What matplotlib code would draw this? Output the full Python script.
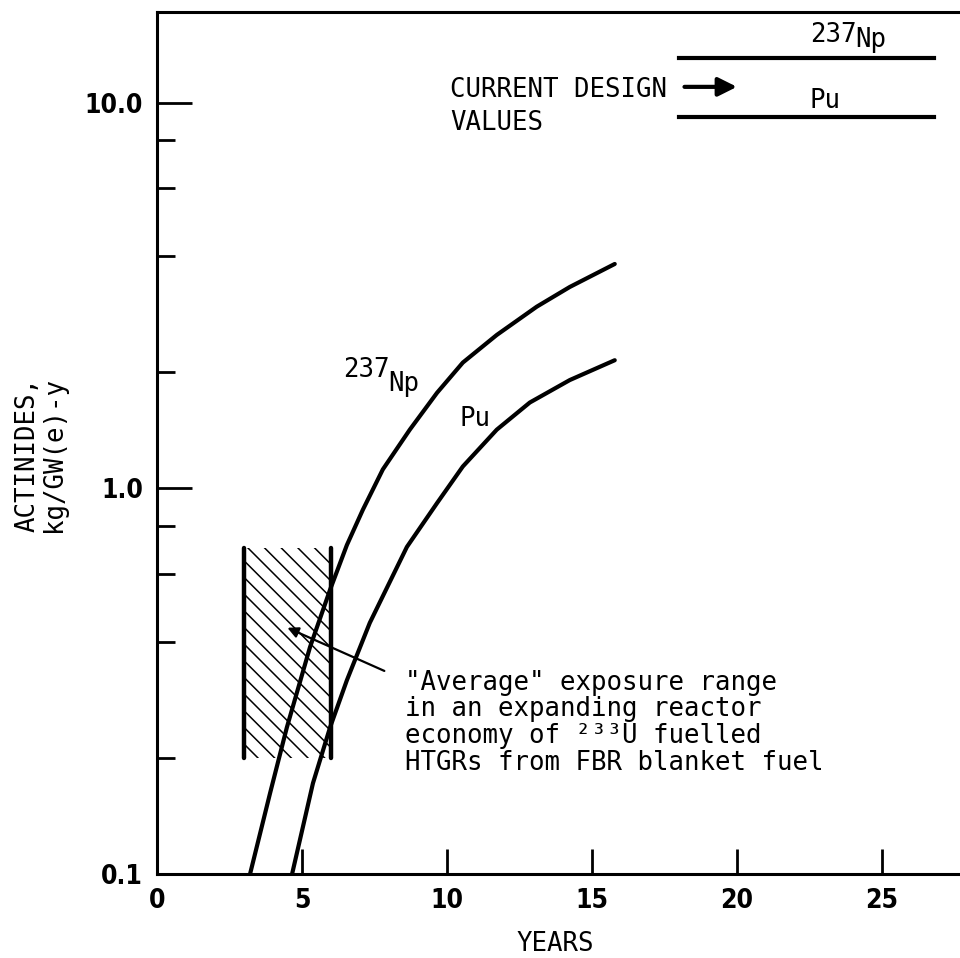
import matplotlib
matplotlib.use("Agg")
import matplotlib.pyplot as plt
from matplotlib import font_manager
from matplotlib.ticker import FixedLocator, NullFormatter, FixedFormatter

# ---- data ----
np_years = [3.21, 3.90, 4.48, 5.28, 5.97, 6.55, 7.10, 7.79, 8.72, 9.66, 10.55, 11.72, 13.10, 14.24, 15.79]
np_values = [0.100, 0.162, 0.240, 0.388, 0.546, 0.713, 0.88, 1.12, 1.42, 1.77, 2.12, 2.50, 2.96, 3.33, 3.82]

pu_years = [4.66, 5.38, 5.97, 6.55, 7.34, 8.62, 9.66, 10.55, 11.72, 12.86, 14.24, 15.79]
pu_values = [0.100, 0.172, 0.240, 0.318, 0.448, 0.705, 0.916, 1.14, 1.42, 1.67, 1.91, 2.15]

design_years = [18.0, 26.8]
design_np = 13.1
design_pu = 9.2

exposure_years = [3.0, 6.0]
exposure_range = [0.2, 0.7]

x_ticks = [0, 5, 10, 15, 20, 25]
x_tick_labels = ["0", "5", "10", "15", "20", "25"]
y_major = [0.1, 1.0, 10.0]
y_major_labels = ["0.1", "1.0", "10.0"]
y_minor = [0.2, 0.4, 0.6, 0.8, 2, 4, 6, 8]

# pick a condensed bold face for tick labels if one is installed
_cand = font_manager.findfont(font_manager.FontProperties(family="DejaVu Sans", weight="bold",
                                                          stretch="condensed"))
if "Condensed" in _cand:
    tick_family, tick_stretch, tick_size = ["DejaVu Sans"], "condensed", 19
else:
    tick_family, tick_stretch, tick_size = ["Liberation Sans", "DejaVu Sans"], "normal", 19

W, H = 960, 958
fig = plt.figure(figsize=(W / 100, H / 100), dpi=100)
ax = fig.add_axes([157 / W, 1 - 874 / H, (W - 157) / W, (874 - 12) / H])
ax.set_yscale("log")
ax.set_xlim(0, 27.7)
ax.set_ylim(0.1, 17.2)

for s in ["left", "bottom", "top"]:
    ax.spines[s].set_linewidth(2.2)
ax.spines["right"].set_visible(False)

mono = ["DejaVu Sans Mono"]

ax.xaxis.set_major_locator(FixedLocator(x_ticks))
ax.xaxis.set_major_formatter(FixedFormatter(x_tick_labels))
ax.xaxis.set_minor_locator(FixedLocator([]))
ax.yaxis.set_major_locator(FixedLocator(y_major))
ax.yaxis.set_major_formatter(FixedFormatter(y_major_labels))
ax.yaxis.set_minor_locator(FixedLocator(y_minor))
ax.yaxis.set_minor_formatter(NullFormatter())
ax.tick_params(axis="x", which="major", direction="in", length=18, width=2, pad=10)
ax.tick_params(axis="y", which="major", direction="in", length=25, width=2, pad=10)
ax.tick_params(axis="y", which="minor", direction="in", length=13, width=2)
for lbl in ax.get_xticklabels() + ax.get_yticklabels():
    lbl.set_fontfamily(tick_family)
    lbl.set_fontstretch(tick_stretch)
    lbl.set_fontweight("bold")
    lbl.set_fontsize(tick_size)

# curves
ax.plot(np_years, np_values, color="black", lw=3, solid_capstyle="round", solid_joinstyle="round")
ax.plot(pu_years, pu_values, color="black", lw=3, solid_capstyle="round", solid_joinstyle="round")

# hatched exposure range
plt.rcParams["hatch.linewidth"] = 1.1
ax.fill_between(exposure_years, exposure_range[0], exposure_range[1],
                facecolor="none", edgecolor="black", hatch="\\\\", linewidth=0)
for xv in exposure_years:
    ax.plot([xv, xv], exposure_range, color="black", lw=3.2, solid_capstyle="round")

# current design values
ax.plot(design_years, [design_np, design_np], color="black", lw=3)
ax.plot(design_years, [design_pu, design_pu], color="black", lw=3)
ax.annotate("", xy=(20.1, 11.0), xytext=(18.1, 11.0),
            arrowprops=dict(arrowstyle="-|>", lw=3, color="black", mutation_scale=28))

# exposure annotation arrow
ax.annotate("", xy=(4.41, 0.438), xytext=(7.93, 0.334),
            arrowprops=dict(arrowstyle="-|>", lw=1.6, color="black", mutation_scale=16))

def ftext(px, py, s, **kw):
    fig.text(px / W, 1 - py / H, s, family=mono, fontsize=18.5, va="baseline", **kw)

ftext(450, 97, "CURRENT DESIGN")
ftext(450, 130, "VALUES")
ftext(810, 42, "237")
ftext(855, 47, "Np")
ftext(809, 108, "Pu")
ftext(343, 377, "237")
ftext(388, 391, "Np")
ftext(460, 426, "Pu")
ftext(405, 690, '"Average" exposure range')
ftext(405, 716.5, "in an expanding reactor")
ftext(405, 743, "economy of ²³³U fuelled")
ftext(405, 769.5, "HTGRs from FBR blanket fuel")
ftext(555, 951, "YEARS", ha="center")
fig.text(41 / W, 1 - 455 / H, "ACTINIDES,\nkg/GW(e)-y", family=mono, fontsize=18.5,
         rotation=90, ha="center", va="center", linespacing=1.05)

fig.savefig("out.png", dpi=100)
